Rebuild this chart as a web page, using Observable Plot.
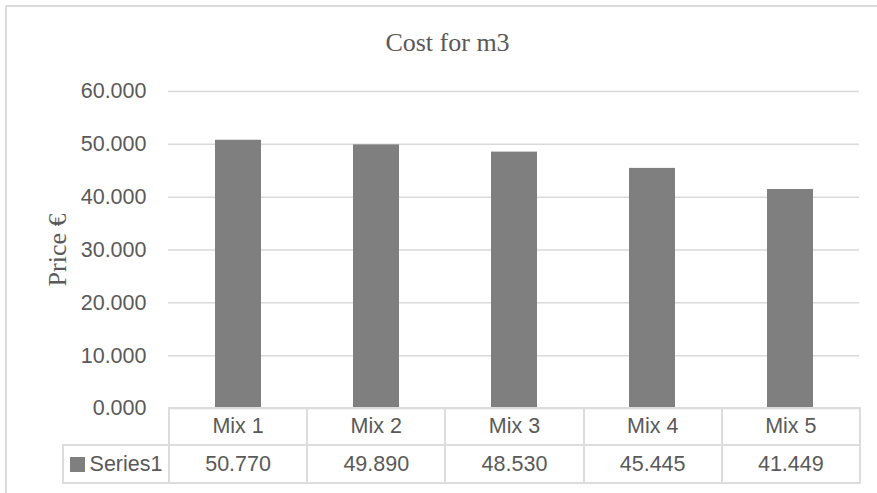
<!DOCTYPE html>
<html>
<head>
<meta charset="utf-8">
<script src="https://cdn.jsdelivr.net/npm/d3@7"></script>
<script src="https://cdn.jsdelivr.net/npm/@observablehq/plot@0.6"></script>
<style>
  html, body { margin: 0; padding: 0; background: #fff; }
  #wrap { position: relative; width: 877px; height: 493px; overflow: hidden; background: #fff; }
  #frame { position: absolute; left: 5px; top: 5px; width: 1000px; height: 1000px;
           border-left: 2px solid #dcdcdc; border-top: 2px solid #dcdcdc; box-sizing: border-box; }
  #title { position: absolute; left: 0; top: 30px; width: 895px; text-align: center;
           font-family: "Liberation Serif", "Times New Roman", serif; font-size: 26px; line-height: 26px; color: #595959; }
  #plot { position: absolute; left: 0; top: 70px; }
  #tbl { position: absolute; left: 62px; top: 407px; border-collapse: collapse; table-layout: fixed;
         font-family: "Liberation Sans", Arial, sans-serif; font-size: 21.5px; color: #595959; }
  #tbl td { border: 2px solid #dcdcdc; text-align: center; padding: 0; white-space: nowrap; }
  #tbl td.blank { border: none; }
  #tbl tr.h td { height: 35px; }
  #tbl tr.v td { height: 36px; }
  .key { display: inline-block; width: 15px; height: 15px; background: #7f7f7f; margin-right: 5px; vertical-align: -1px; }
</style>
</head>
<body>
<div id="wrap">
  <div id="frame"></div>
  <div id="title"></div>
  <div id="plot"></div>
  <table id="tbl"></table>
</div>
<script>
const chartTitle = "Cost for m3";
const yLabel = "Price €";
const seriesName = "Series1";
const mixes = ["Mix 1", "Mix 2", "Mix 3", "Mix 4", "Mix 5"];
const values = [50.770, 49.890, 48.530, 45.445, 41.449];
const yTicks = [0, 10, 20, 30, 40, 50, 60];

const fmt = d3.format(".3f");
const data = mixes.map((m, i) => ({mix: m, value: values[i]}));
const sans = "'Liberation Sans', Arial, sans-serif";
const serif = "'Liberation Serif', 'Times New Roman', serif";

document.getElementById("title").textContent = chartTitle;

const plot = Plot.plot({
  width: 877,
  height: 340,
  marginTop: 21,
  marginBottom: 2,
  marginLeft: 168,
  marginRight: 18,
  style: {fontFamily: sans, fontSize: "21.5px", color: "#595959", background: "transparent", overflow: "visible"},
  x: {domain: mixes, paddingInner: 0.667, paddingOuter: 0.333, axis: null},
  y: {domain: [0, 60]},
  marks: [
    Plot.gridY(yTicks, {stroke: "#d9d9d9", strokeOpacity: 1, strokeWidth: 1.5}),
    Plot.axisY(yTicks, {tickSize: 0, tickPadding: 22, tickFormat: fmt, fontSize: 21.5, label: null, color: "#595959"}),
    Plot.barY(data, {x: "mix", y: "value", fill: "#7f7f7f"}),
    Plot.text([yLabel], {frameAnchor: "left", textAnchor: "middle", rotate: -90, dx: -111, fontFamily: serif, fontSize: 26, fill: "#595959"})
  ]
});
document.getElementById("plot").appendChild(plot);

// data table below the chart
const colW = 691 / mixes.length;
const tbl = d3.select("#tbl");
const cg = tbl.append("colgroup");
cg.append("col").style("width", "106px");
mixes.forEach(() => cg.append("col").style("width", colW + "px"));
const hr = tbl.append("tr").attr("class", "h");
hr.append("td").attr("class", "blank");
mixes.forEach(m => hr.append("td").text(m));
const vr = tbl.append("tr").attr("class", "v");
const first = vr.append("td");
first.append("span").attr("class", "key");
first.append("span").text(seriesName);
values.forEach(v => vr.append("td").text(fmt(v)));
</script>
</body>
</html>
